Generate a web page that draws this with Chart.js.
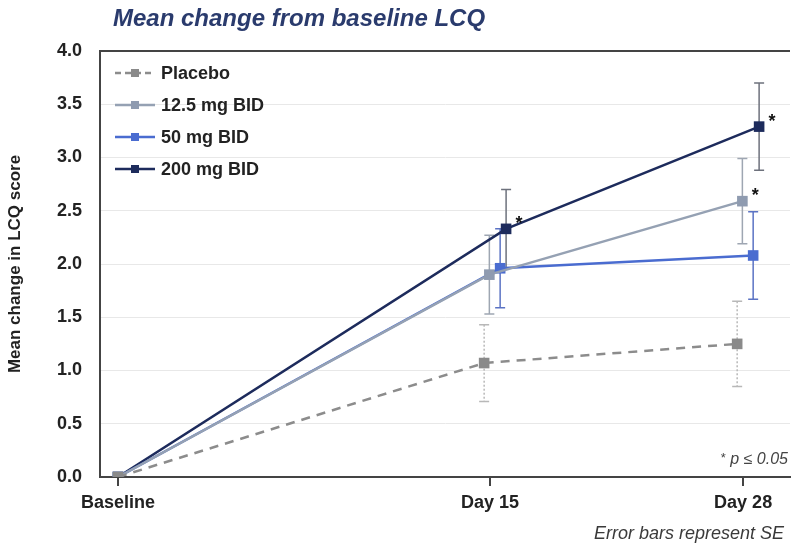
<!DOCTYPE html>
<html>
<head>
<meta charset="utf-8">
<script src="https://cdn.jsdelivr.net/npm/chart.js@4.4.1/dist/chart.umd.min.js"></script>
<style>
  html, body { margin: 0; padding: 0; background: #fff; }
  #wrap { position: relative; width: 798px; height: 553px; font-family: "Liberation Sans", Arial, sans-serif; }
  #chart { position: absolute; left: 0; top: 0; }
  .title { position: absolute; left: 113px; top: 4px; font-size: 24px; font-weight: bold; font-style: italic; color: #2a3b6d; }
  .pnote { position: absolute; right: 10px; top: 450px; font-size: 16px; color: #444; font-style: italic; }
  .pnote span { font-style: normal; font-size: 13px; vertical-align: 2px; }
  .senote { position: absolute; right: 14px; top: 523px; font-size: 18px; font-style: italic; color: #3a3a3a; }
</style>
</head>
<body>
<div id="wrap">
  <canvas id="chart" width="798" height="553"></canvas>
  <div class="title">Mean change from baseline LCQ</div>
  <div class="pnote"><span>*</span> p ≤ 0.05</div>
  <div class="senote">Error bars represent SE</div>
</div>
<script>
// visits on the x axis (positions are relative spacing of the original figure)
const visitLabels = ['Baseline', 'Day 15', 'Day 28'];
const visitX = [0, 1, 1.68];

const seriesNames = ['Placebo', '12.5 mg BID', '50 mg BID', '200 mg BID'];

// mean change from baseline LCQ
const placeboMean = [0, 1.07, 1.25];
const dose12Mean = [0, 1.90, 2.59];
const dose50Mean = [0, 1.96, 2.08];
const dose200Mean = [0, 2.33, 3.29];

// standard errors
const placeboSE = [0, 0.36, 0.40];
const dose12SE = [0, 0.37, 0.40];
const dose50SE = [0, 0.37, 0.41];
const dose200SE = [0, 0.37, 0.41];

// p <= 0.05 markers
const placeboSig = [false, false, false];
const dose12Sig = [false, false, true];
const dose50Sig = [false, false, false];
const dose200Sig = [false, true, true];

const yTicks = [0, 0.5, 1, 1.5, 2, 2.5, 3, 3.5, 4];

// styles
const lineColors = ['#8c8c8c', '#95a1b3', '#4a6cd0', '#1d2b5c'];
const markerColors = ['#8a8a8a', '#8f9bb0', '#4a6cd0', '#1d2b5c'];
const errColors = ['#b8b8b8', '#9ea6b2', '#5b73c4', '#6d717c'];
const jitter = [-0.016, -0.002, 0.027, 0.043];

const means = [placeboMean, dose12Mean, dose50Mean, dose200Mean];
const ses = [placeboSE, dose12SE, dose50SE, dose200SE];
const sigs = [placeboSig, dose12Sig, dose50Sig, dose200Sig];

const datasets = seriesNames.map((name, i) => ({
  label: name,
  data: means[i].map((v, j) => ({ x: visitX[j] + (j > 0 ? jitter[i] : 0), y: v })),
  se: ses[i],
  sig: sigs[i],
  errColor: errColors[i],
  errDash: i === 0 ? [2, 2] : [],
  borderColor: lineColors[i],
  borderWidth: 2.5,
  borderDash: i === 0 ? [9, 7] : [],
  pointStyle: 'rect',
  pointRadius: 7.5,
  pointBackgroundColor: markerColors[i],
  pointBorderColor: markerColors[i],
  pointBorderWidth: 0,
  tension: 0,
  showLine: true
}));

const font = '"Liberation Sans", Arial, sans-serif';

const errorBars = {
  id: 'errorBars',
  beforeDatasetsDraw(chart) {
    const { ctx, scales: { x, y } } = chart;
    chart.data.datasets.forEach(ds => {
      ctx.save();
      ctx.strokeStyle = ds.errColor;
      ctx.lineWidth = 1.5;
      ds.data.forEach((p, j) => {
        const se = ds.se[j];
        if (!se) return;
        const px = x.getPixelForValue(p.x);
        const top = y.getPixelForValue(p.y + se);
        const bot = y.getPixelForValue(p.y - se);
        ctx.setLineDash(ds.errDash);
        ctx.beginPath();
        ctx.moveTo(px, top); ctx.lineTo(px, bot);
        ctx.stroke();
        ctx.setLineDash([]);
        ctx.beginPath();
        ctx.moveTo(px - 5, top); ctx.lineTo(px + 5, top);
        ctx.moveTo(px - 5, bot); ctx.lineTo(px + 5, bot);
        ctx.stroke();
      });
      ctx.restore();
    });
  },
  afterDatasetsDraw(chart) {
    const { ctx, scales: { x, y } } = chart;
    ctx.save();
    ctx.fillStyle = '#111';
    ctx.font = 'bold 18px ' + font;
    ctx.textAlign = 'center';
    ctx.textBaseline = 'middle';
    chart.data.datasets.forEach(ds => {
      ds.data.forEach((p, j) => {
        if (!ds.sig[j]) return;
        ctx.fillText('*', x.getPixelForValue(p.x) + 13, y.getPixelForValue(p.y) - 5);
      });
    });
    ctx.restore();
  }
};

const legendBox = {
  id: 'legendBox',
  afterDraw(chart) {
    const { ctx, chartArea } = chart;
    chart.data.datasets.forEach((ds, i) => {
      const y = chartArea.top + 22 + i * 32;
      const x0 = chartArea.left + 15;
      ctx.save();
      ctx.strokeStyle = ds.borderColor;
      ctx.lineWidth = 2.5;
      ctx.setLineDash(i === 0 ? [6, 4] : []);
      ctx.beginPath();
      ctx.moveTo(x0, y); ctx.lineTo(x0 + 40, y);
      ctx.stroke();
      ctx.fillStyle = ds.pointBackgroundColor;
      ctx.fillRect(x0 + 16, y - 4, 8, 8);
      ctx.fillStyle = '#222';
      ctx.font = 'bold 18px ' + font;
      ctx.textBaseline = 'middle';
      ctx.fillText(ds.label, x0 + 46, y + 1);
      ctx.restore();
    });
  }
};

new Chart(document.getElementById('chart'), {
  type: 'line',
  data: { datasets },
  plugins: [errorBars, legendBox],
  options: {
    responsive: false,
    animation: false,
    layout: { padding: { left: 0, right: 8, top: 51, bottom: 36 } },
    plugins: { legend: { display: false }, tooltip: { enabled: false } },
    scales: {
      x: {
        type: 'linear',
        min: -0.0484,
        max: 1.806,
        afterFit: s => { s.height = 40; },
        afterBuildTicks: s => { s.ticks = visitX.map(v => ({ value: v })); },
        grid: { drawOnChartArea: false, color: '#444', lineWidth: 2, tickLength: 9 },
        border: { color: '#444', width: 2 },
        ticks: {
          padding: 6,
          color: '#222',
          font: { family: font, size: 18, weight: 'bold' },
          callback: (v, i) => visitLabels[i]
        }
      },
      y: {
        min: 0,
        max: 4,
        afterFit: s => { s.width = 100; },
        afterBuildTicks: s => { s.ticks = yTicks.map(v => ({ value: v })); },
        grid: {
          drawTicks: false,
          color: c => (c.tick && c.tick.value === 4 ? '#444' : '#e8e8e8'),
          lineWidth: c => (c.tick && c.tick.value === 4 ? 2 : 1)
        },
        border: { color: '#444', width: 2 },
        title: {
          display: true,
          text: 'Mean change in LCQ score',
          color: '#222',
          font: { family: font, size: 17, weight: 'bold' },
          padding: { top: 5 }
        },
        ticks: {
          padding: 18,
          color: '#222',
          font: { family: font, size: 18, weight: 'bold' },
          callback: v => v.toFixed(1)
        }
      }
    }
  }
});
</script>
</body>
</html>
